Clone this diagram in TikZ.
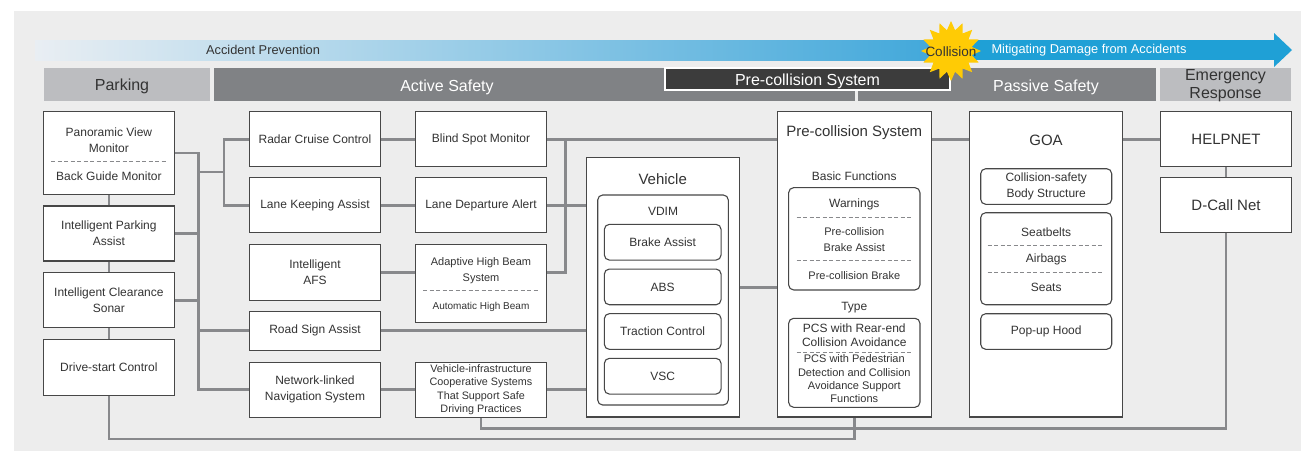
\documentclass[tikz,border=0pt]{standalone}
\usepackage{fontspec}
\setmainfont{Liberation Sans}
\usetikzlibrary{shapes.geometric}
\definecolor{panel}{HTML}{EDEDED}
\definecolor{linkgrey}{HTML}{88898C}
\definecolor{frame}{HTML}{474747}
\definecolor{ink}{HTML}{333333}
\definecolor{lightbar}{HTML}{BCBDC0}
\definecolor{midbar}{HTML}{808285}
\definecolor{darkbar}{HTML}{3C3C3C}
\definecolor{skyfade}{HTML}{E9EEF3}
\definecolor{skydeep}{HTML}{3FA7DA}
\definecolor{skysolid}{HTML}{1FA0D6}
\definecolor{burst}{HTML}{FFCB05}
\newcommand{\fsz}[2]{\fontsize{#1}{#2}\selectfont}

\begin{document}
\begin{tikzpicture}[x=1pt,y=-1pt,
    box/.style={draw=frame,fill=white,line width=1.1pt,text=ink,align=center,inner sep=0pt,
      minimum width=131.5pt,minimum height=55pt,font=\fsz{12}{16}},
    sub/.style={box,rounded corners=5pt},
    lbl/.style={text=ink,align=center,inner sep=0pt,font=\fsz{12}{16}},
    bar/.style={inner sep=0pt,minimum height=33pt,anchor=north west,align=center},
    sep/.style={draw=linkgrey,line width=0.9pt,dash pattern=on 4pt off 2.5pt},
    link/.style={draw=linkgrey,line width=2.6pt}]
  \useasboundingbox (0,0) rectangle (1301,451);
  \fill[panel] (14,11) rectangle (1301,451);

  \shade[left color=skyfade,right color=skydeep] (35,40) rectangle (951,60);
  \fill[skysolid] (950,40) rectangle (1275,60);
  \fill[skysolid] (1274,33) -- (1292,50) -- (1274,67) -- cycle;
  \node[text=ink,inner sep=0pt,font=\fsz{12.8}{15}] (prevtxt) at (263,50) {Accident Prevention};
  \node[text=white,inner sep=0pt,font=\fsz{12.8}{15}] (mitigtxt) at (1089,50) {Mitigating Damage from Accidents};

  \node[bar,fill=lightbar,minimum width=166.5pt] (park) at (43.5,68) {};
  \node[bar,fill=midbar,minimum width=641.5pt] (act) at (213.5,68) {};
  \node[bar,fill=midbar,minimum width=298pt] (pas) at (858,68) {};
  \node[bar,fill=lightbar,minimum width=131pt] (emr) at (1160,68) {};
  \node[text=ink,inner sep=0pt,font=\fsz{16}{18}] (parktxt) at (122,86.5) {Parking};
  \node[text=white,inner sep=0pt,font=\fsz{16}{18}] (acttxt) at (447,87.5) {Active Safety};
  \node[text=white,inner sep=0pt,font=\fsz{16}{18}] (pastxt) at (1046,87.5) {Passive Safety};
  \node[text=ink,inner sep=0pt,align=center,font=\fsz{16}{17.5}] (emrtxt) at (1225.5,85.5) {Emergency\\Response};
  \node[draw=white,line width=2.5pt,fill=darkbar,minimum width=285pt,minimum height=22pt,
    inner sep=0pt] (pcshead) at (807.5,79) {};
  \node[text=white,inner sep=0pt,font=\fsz{16}{18}] (pcsheadtxt) at (807.5,81) {Pre-collision System};
  \node[star,star points=16,star point ratio=1.42,fill=burst,minimum size=60pt,inner sep=0pt] (burst) at (951,51) {};
  \node[text=ink,inner sep=0pt,font=\fsz{13.5}{15}] (colltxt) at (951,51.5) {Collision};

  \node[box,minimum width=131.3pt,minimum height=82.6pt] (pvm) at (108.9,153) {};
  \node[lbl] (pvmtop) at (108.9,140.5) {Panoramic View\\Monitor};
  \node[lbl] (pvmbot) at (108.9,176.5) {Back Guide Monitor};
  \draw[sep] (51,161.7) -- (167,161.7);
  \node[box] (ipa) at (108.9,233.5) {Intelligent Parking\\Assist};
  \node[box] (ics) at (108.9,300.3) {Intelligent Clearance\\Sonar};
  \node[box,minimum height=56pt] (dsc) at (108.9,367.3) {Drive-start Control};

  \node[box] (rcc) at (315,139.2) {Radar Cruise Control};
  \node[box] (lka) at (315,205.2) {Lane Keeping Assist};
  \node[box,minimum height=55.7pt] (afs) at (315,272.2) {Intelligent\\AFS};
  \node[box,minimum height=38.7pt] (rsa) at (315,330.7) {Road Sign Assist};
  \node[box] (nav) at (315,389.7) {Network-linked\\Navigation System};

  \node[box] (bsm) at (481,139.2) {Blind Spot Monitor};
  \node[box] (lda) at (481,205.2) {Lane Departure Alert};
  \node[box,minimum height=78pt] (ahb) at (481,283.3) {};
  \node[lbl,font=\fsz{11}{16}] (ahbtop) at (481,271) {Adaptive High Beam\\System};
  \node[lbl,font=\fsz{10}{12}] (ahbbot) at (481,307) {Automatic High Beam};
  \draw[sep] (423,290.7) -- (539,290.7);
  \node[box,font=\fsz{10.8}{13.5}] (vic) at (481,389.7) {Vehicle-infrastructure\\Cooperative Systems\\That Support Safe\\Driving Practices};

  \node[box,minimum width=153.3pt,minimum height=259.3pt] (veh) at (662.7,287.3) {};
  \node[lbl,font=\fsz{15}{18}] (vehtxt) at (662.7,179) {Vehicle};
  \node[sub,minimum width=130.6pt,minimum height=210pt] (vdim) at (663,300) {};
  \node[lbl] (vdimtxt) at (663,211.5) {VDIM};
  \node[sub,minimum width=116.7pt,minimum height=35.7pt] (bka) at (662.7,242.2) {Brake Assist};
  \node[sub,minimum width=116.7pt,minimum height=35.7pt] (abs) at (662.7,286.9) {ABS};
  \node[sub,minimum width=116.7pt,minimum height=35.7pt] (trc) at (662.7,331.5) {Traction Control};
  \node[sub,minimum width=116.7pt,minimum height=35.7pt] (vsc) at (662.7,376.2) {VSC};

  \node[box,minimum width=153.7pt,minimum height=305.3pt] (pcs) at (854.2,264.3) {};
  \node[lbl,font=\fsz{15}{18}] (pcstxt) at (854.2,132.5) {Pre-collision System};
  \node[lbl] (basictxt) at (854.2,176.3) {Basic Functions};
  \node[sub,minimum width=131.3pt,minimum height=102.3pt] (basic) at (854.3,238.8) {};
  \node[lbl] (warn) at (854.3,204) {Warnings};
  \node[lbl,font=\fsz{11}{15.3}] (pcba) at (854.3,239.6) {Pre-collision\\Brake Assist};
  \node[lbl,font=\fsz{11}{13}] (pcb) at (854.3,276) {Pre-collision Brake};
  \draw[sep] (796.7,217.3) -- (912.3,217.3);
  \draw[sep] (796.7,260) -- (912.3,260);
  \node[lbl] (typetxt) at (854.3,307.3) {Type};
  \node[sub,minimum width=131.3pt,minimum height=89pt] (type) at (854.3,362.8) {};
  \node[lbl,font=\fsz{12}{14}] (rear) at (854.3,335.5) {PCS with Rear-end\\Collision Avoidance};
  \node[lbl,font=\fsz{11}{13.3}] (ped) at (854.3,378.8) {PCS with Pedestrian\\Detection and Collision\\Avoidance Support\\Functions};
  \draw[sep] (796.7,352.3) -- (912.3,352.3);

  \node[box,minimum width=153.4pt,minimum height=305.3pt] (goa) at (1046,264.3) {};
  \node[lbl,font=\fsz{15}{18}] (goatxt) at (1046,140.7) {GOA};
  \node[sub,minimum width=131pt,minimum height=35.6pt,font=\fsz{12}{15.3}] (csb) at (1046.2,186.5) {Collision-safety\\Body Structure};
  \node[sub,minimum width=131pt,minimum height=92pt] (sab) at (1046.2,258.7) {};
  \node[lbl] (belt) at (1046.2,231.8) {Seatbelts};
  \node[lbl] (bag) at (1046.2,259.8) {Airbags};
  \node[lbl] (seat) at (1046.2,287.3) {Seats};
  \draw[sep] (987.7,245) -- (1104,245);
  \draw[sep] (987.7,272.3) -- (1104,272.3);
  \node[sub,minimum width=131pt,minimum height=35.6pt] (puh) at (1046.2,331.5) {Pop-up Hood};

  \node[box,font=\fsz{15}{18}] (hel) at (1226,139.2) {HELPNET};
  \node[box,font=\fsz{15}{18}] (dcn) at (1226,205.2) {D-Call Net};

  \begin{scope}[link]
    \draw (pvm) to (ipa);
    \draw (ipa) to (ics);
    \draw (ics) to (dsc);
    \coordinate (busl) at (198.6,153);
    \draw (pvm.east) -- (busl) -- (busl |- nav.west) -- (nav.west);
    \draw (ipa.east) -- (ipa.east -| busl);
    \draw (ics.east) -- (ics.east -| busl);
    \draw (rsa.west -| busl) -- (rsa.west);
    \coordinate (fork) at (224,172);
    \draw (busl |- fork) -- (fork);
    \draw (rcc.west) -| (fork) |- (lka.west);
    \draw (rcc) to (bsm);
    \draw (lka) to (lda);
    \draw (afs.east) -- (afs.east -| ahb.west);
    \draw (nav) to (vic);
    \coordinate (busr) at (565.6,139.2);
    \draw (bsm.east) -- (bsm.east -| pcs.west);
    \draw (busr) |- (afs.east -| ahb.east);
    \draw (lda.east) -- (lda.east -| veh.west);
    \draw (rsa.east) -- (rsa.east -| veh.west);
    \draw (vic.east) -- (vic.east -| veh.west);
    \draw (veh.east) -- (veh.east -| pcs.west);
    \draw (pcs.east |- hel.west) -- (goa.west |- hel.west);
    \draw (goa.east |- hel.west) -- (hel.west);
    \draw (hel) to (dcn);
    \coordinate (tail1) at (1226,428.3);
    \draw (vic.south) |- (tail1) -- (dcn.south);
    \coordinate (tail2) at (854.2,439);
    \draw (dsc.south) |- (tail2) -- (pcs.south);
  \end{scope}
\end{tikzpicture}
\end{document}
